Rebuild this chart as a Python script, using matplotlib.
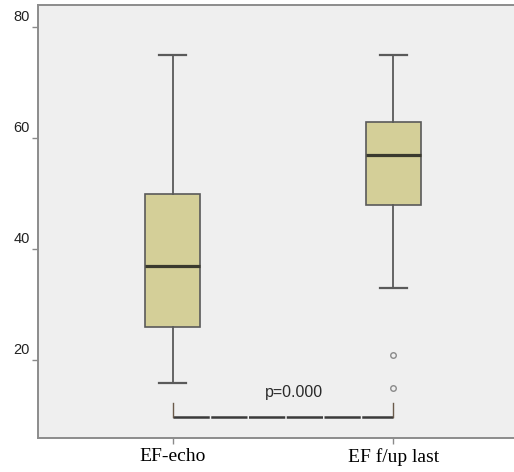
import matplotlib
matplotlib.use("Agg")
import matplotlib.pyplot as plt
import matplotlib.transforms as mtransforms

# Ejection fraction summaries (%)
groups = ["EF-echo", "EF f/up last"]
whisker_low = [16, 33]
q1 = [26, 48]
median = [37, 57]
q3 = [50, 63]
whisker_high = [75, 75]
outliers = [[], [21, 15]]

p_label = "p=0.000"
y_ticks = [20, 40, 60, 80]

stats = []
for i, g in enumerate(groups):
    stats.append(dict(label=g, whislo=whisker_low[i], q1=q1[i], med=median[i],
                      q3=q3[i], whishi=whisker_high[i], fliers=outliers[i]))

fig = plt.figure(figsize=(5.14, 4.72), dpi=100)
fig.patch.set_facecolor("white")
ax = fig.add_axes([0.074, 0.072, 0.93, 0.917])
ax.set_facecolor("#efefef")

edge = "#5a5a5a"
ax.bxp(stats, positions=[1, 2], widths=0.25, patch_artist=True,
       boxprops=dict(facecolor="#d4cf98", edgecolor=edge, linewidth=1.2),
       medianprops=dict(color="#3a3a2e", linewidth=2.3),
       whiskerprops=dict(color=edge, linewidth=1.3),
       capprops=dict(color=edge, linewidth=1.6),
       capwidths=0.125,
       flierprops=dict(marker="o", markersize=4, markerfacecolor="none",
                       markeredgecolor="#8a8a8a", markeredgewidth=1.0))

ax.set_xlim(0.391, 2.555)
ax.set_ylim(6, 84)

# significance bracket
y_bar, y_top = 9.7, 12.4
ax.plot([1, 2], [y_bar, y_bar], color="#3a3a3a", linewidth=1.8,
        linestyle=(0, (14.5, 0.6)), solid_capstyle="butt", dash_capstyle="butt")
for xp in (1, 2):
    ax.plot([xp, xp], [y_bar, y_top], color="#6a5a4a", linewidth=1.0)
ax.text(1.55, 14.2, p_label, ha="center", va="center", fontsize=11.5,
        family="Liberation Sans", color="#2a2a2a")

ax.set_yticks(y_ticks)
ax.set_yticklabels([str(t) for t in y_ticks], fontsize=10.5,
                   family="Liberation Sans", color="#222222")
ax.tick_params(axis="y", length=4, width=1, color="#8a8a8a", pad=2)
shift = mtransforms.ScaledTranslation(0, 0.12, fig.dpi_scale_trans)
for lab in ax.get_yticklabels():
    lab.set_transform(lab.get_transform() + shift)

ax.set_xticks([1, 2])
ax.set_xticklabels(groups, fontsize=14, family="Liberation Serif", color="#000000")
ax.tick_params(axis="x", length=4, width=1, color="#8a8a8a", pad=3)

for side in ("left", "bottom", "top"):
    ax.spines[side].set_color("#8c8c8c")
    ax.spines[side].set_linewidth(1.4)
ax.spines["right"].set_visible(False)

fig.savefig("out.png", dpi=100, facecolor="white")
